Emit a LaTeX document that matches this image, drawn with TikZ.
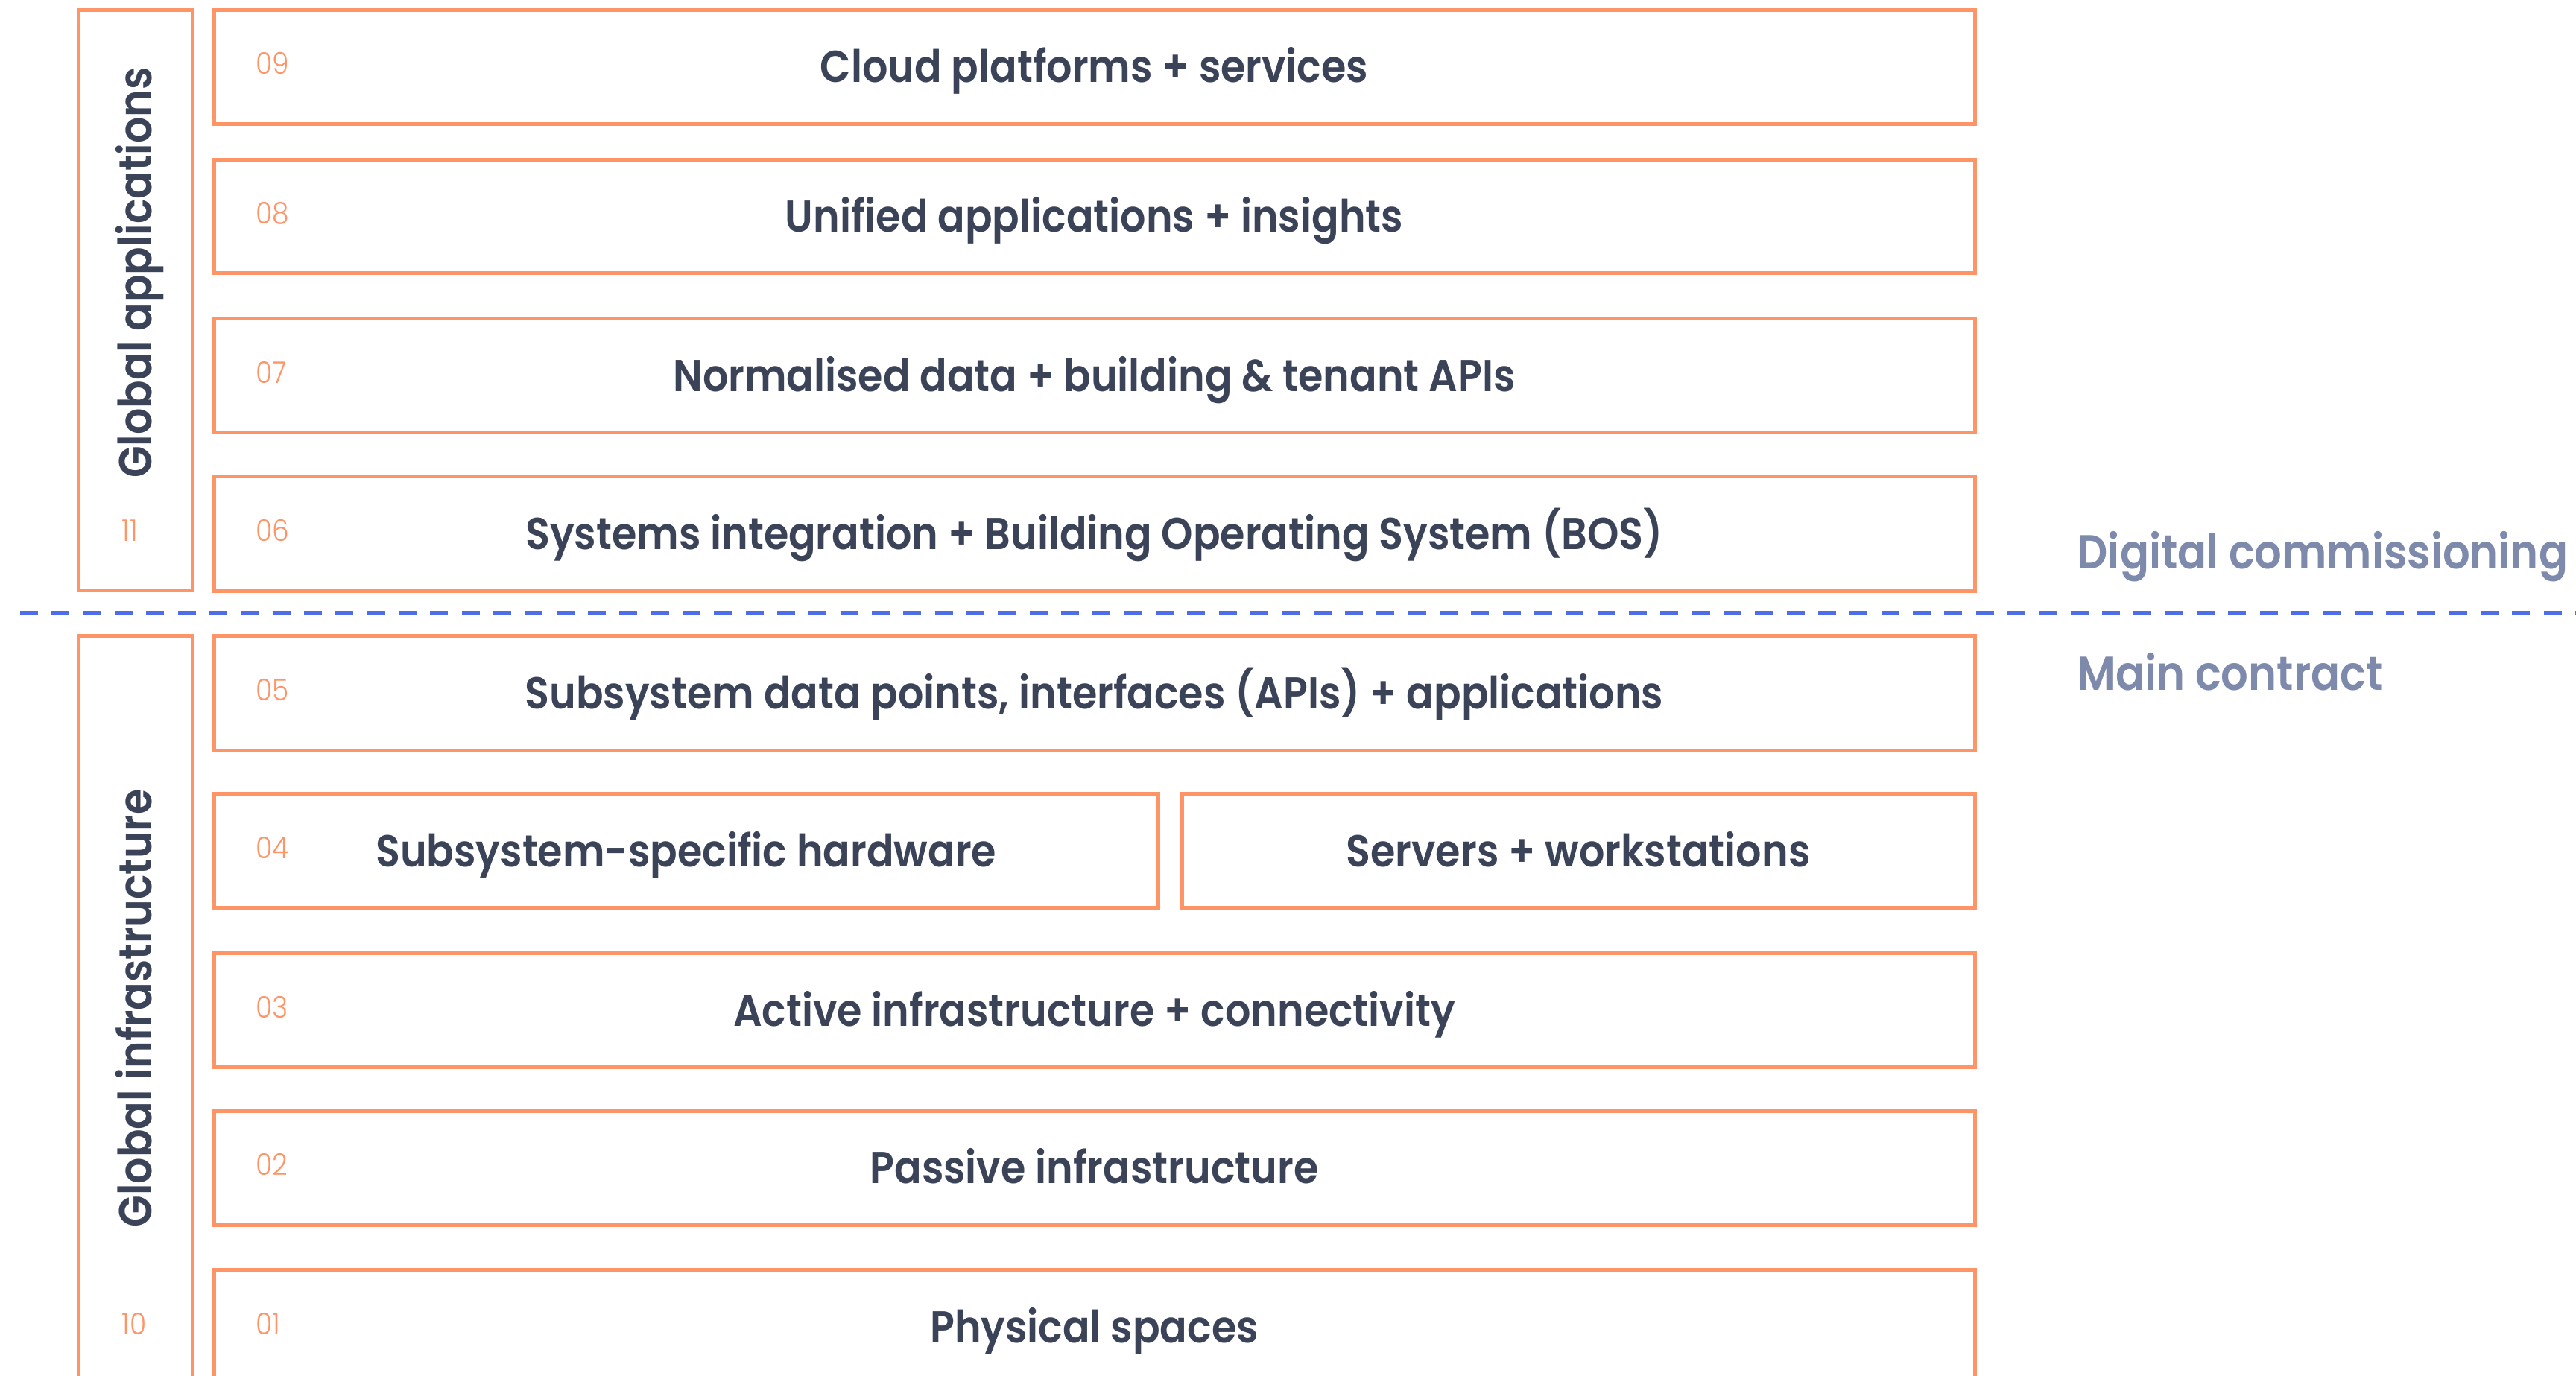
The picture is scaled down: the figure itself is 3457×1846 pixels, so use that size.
\documentclass[tikz,border=0pt]{standalone}
\usepackage{fontspec}
\setmainfont{Poppins}
\newfontfamily\semib{Poppins SemiBold}[FakeStretch=0.9]
\newfontfamily\lightf{Poppins Light}[FakeStretch=0.9]
\definecolor{boxorange}{HTML}{FF9466}
\definecolor{navy}{HTML}{3B4358}
\definecolor{dashblue}{HTML}{4D6DEB}
\definecolor{greyblue}{HTML}{7E8AAB}
\begin{document}
\begin{tikzpicture}[x=0.3pt,y=-0.3pt,
  boxline/.style={draw=boxorange,line width=1.5pt},
  maintext/.style={anchor=base,text=navy,font=\semib\fontsize{18}{20}\selectfont,inner sep=0pt},
  numtext/.style={anchor=base west,text=boxorange,font=\lightf\fontsize{12}{14}\selectfont,inner sep=0pt},
  sidetext/.style={anchor=base,rotate=90,text=navy,font=\semib\fontsize{18.5}{20}\selectfont,inner sep=0pt},
  phasetext/.style={anchor=base west,text=greyblue,font=\semib\fontsize{19.2}{21}\selectfont,inner sep=0pt}]
\useasboundingbox (0,0) rectangle (3457,1846);
\clip (0,0) rectangle (3457,1846);
% left column boxes
\draw[boxline] (105.5,13) rectangle (258.5,792.5);
\draw[boxline] (105.5,853) rectangle (258.5,1900);
% row boxes
\draw[boxline] (287,13) rectangle (2650,166.5);
\draw[boxline] (287,214.5) rectangle (2650,366.5);
\draw[boxline] (287,427.3) rectangle (2650,580.6);
\draw[boxline] (287,639.3) rectangle (2650,793);
\draw[boxline] (287,853) rectangle (2650,1007);
\draw[boxline] (287,1065.6) rectangle (1554.6,1218.7);
\draw[boxline] (1586,1065.6) rectangle (2650,1218.7);
\draw[boxline] (287,1279.5) rectangle (2650,1432.6);
\draw[boxline] (287,1491) rectangle (2650,1644.5);
\draw[boxline] (287,1704.5) rectangle (2650,1858);
% dashed divider
\coordinate (dashL) at (27,823);
\coordinate (dashR) at (3457,823);
\draw[dashblue,line width=1.6pt,dash pattern=on 7.2pt off 5.5pt] (dashL) -- (dashR);
% numbers
\node[numtext] (n09) at (343,99.8) {09};
\node[numtext] (n08) at (343,300.5) {08};
\node[numtext] (n07) at (343,514) {07};
\node[numtext] (n06) at (343,726.2) {06};
\node[numtext] (n05) at (343,940) {05};
\node[numtext] (n04) at (343,1152.2) {04};
\node[numtext] (n03) at (343,1366) {03};
\node[numtext] (n02) at (343,1577.8) {02};
\node[numtext] (n01) at (343,1791.3) {01};
\node[numtext] (n11) at (163,726.2) {11};
\node[numtext] (n10) at (163,1791.3) {10};
% main labels
\node[maintext] (t09) at (1468.5,110.8) {Cloud platforms + services};
\node[maintext] (t08) at (1468.5,311.5) {Unified applications + insights};
\node[maintext] (t07) at (1468.5,525) {Normalised data + building \& tenant APIs};
\node[maintext] (t06) at (1468.5,737.2) {Systems integration + Building Operating System (BOS)};
\node[maintext] (t05) at (1468.5,951) {Subsystem data points, interfaces (APIs) + applications};
\node[maintext] (t04a) at (920.8,1163.2) {Subsystem-specific hardware};
\node[maintext] (t04b) at (2118,1163.2) {Servers + workstations};
\node[maintext] (t03) at (1468.5,1377) {Active infrastructure + connectivity};
\node[maintext] (t02) at (1468.5,1588.8) {Passive infrastructure};
\node[maintext] (t01) at (1468.5,1802.3) {Physical spaces};
% side labels
\node[sidetext] (ga) at (203,366) {Global applications};
\node[sidetext] (gi) at (203,1353.4) {Global infrastructure};
% phase labels
\node[phasetext] (dc) at (2787,763) {Digital commissioning};
\node[phasetext] (mc) at (2787,926) {Main contract};
\end{tikzpicture}
\end{document}
